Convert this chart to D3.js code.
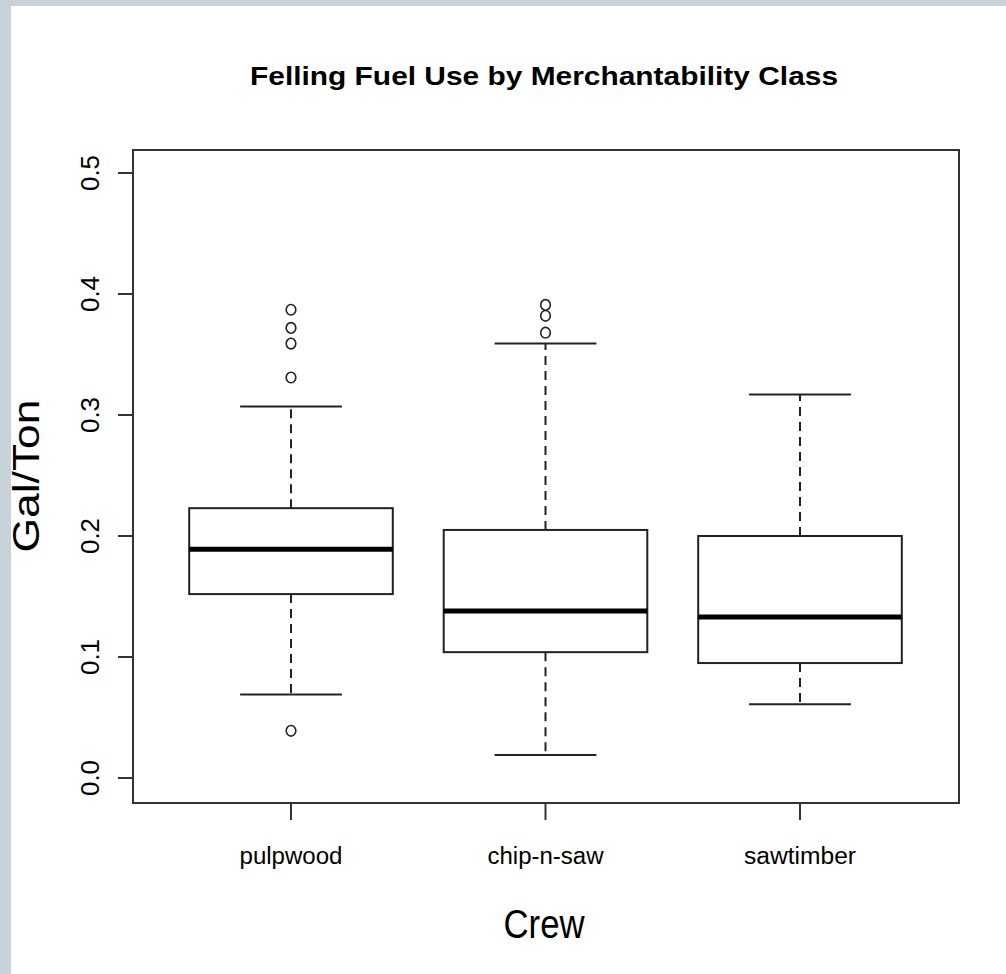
<!DOCTYPE html>
<html>
<head>
<meta charset="utf-8">
<script src="https://cdn.jsdelivr.net/npm/d3@7"></script>
<style>
  html, body { margin: 0; padding: 0; background: #ffffff; }
  svg { display: block; }
  text { font-family: "Liberation Sans", Arial, sans-serif; fill: #000; }
</style>
</head>
<body>
<script>
// Felling fuel use (gallons per ton) summarised per merchantability class
const categories = ["pulpwood", "chip-n-saw", "sawtimber"];
const whiskerLow  = [0.069, 0.019, 0.061];
const quartile1   = [0.152, 0.104, 0.095];
const medians     = [0.189, 0.138, 0.133];
const quartile3   = [0.223, 0.205, 0.200];
const whiskerHigh = [0.307, 0.359, 0.317];
const outliers = [
  [0.387, 0.372, 0.359, 0.331, 0.039],
  [0.391, 0.382, 0.368],
  []
];
const yTicks = [0.0, 0.1, 0.2, 0.3, 0.4, 0.5];

const W = 1006, H = 974;
const svg = d3.select("body").append("svg").attr("width", W).attr("height", H);

// page frame
svg.append("rect").attr("x", 0).attr("y", 0).attr("width", W).attr("height", H).attr("fill", "#c8d2d9");
svg.append("rect").attr("x", 11).attr("y", 6).attr("width", W - 11).attr("height", H - 6).attr("fill", "#ffffff");

// plot region
const frame = { left: 133, right: 959, top: 150, bottom: 803 };
const y = d3.scaleLinear().domain([0, 0.5]).range([778, 173]);
const x = d3.scalePoint().domain(categories).range([291, 800]);
const boxW = x.step() * 0.8;
const capW = boxW / 2;

const ink = "#222";

// boxes
const g = svg.append("g");
categories.forEach((c, i) => {
  const cx = x(c);
  // whiskers (dashed)
  g.append("line").attr("x1", cx).attr("x2", cx)
    .attr("y1", y(quartile3[i])).attr("y2", y(whiskerHigh[i]))
    .attr("stroke", ink).attr("stroke-width", 2).attr("stroke-dasharray", "9,6");
  g.append("line").attr("x1", cx).attr("x2", cx)
    .attr("y1", y(quartile1[i])).attr("y2", y(whiskerLow[i]))
    .attr("stroke", ink).attr("stroke-width", 2).attr("stroke-dasharray", "9,6");
  // whisker caps
  [whiskerHigh[i], whiskerLow[i]].forEach(v => {
    g.append("line").attr("x1", cx - capW / 2).attr("x2", cx + capW / 2)
      .attr("y1", y(v)).attr("y2", y(v))
      .attr("stroke", ink).attr("stroke-width", 2);
  });
  // box
  g.append("rect").attr("x", cx - boxW / 2).attr("width", boxW)
    .attr("y", y(quartile3[i])).attr("height", y(quartile1[i]) - y(quartile3[i]))
    .attr("fill", "#fff").attr("stroke", ink).attr("stroke-width", 2);
  // median
  g.append("line").attr("x1", cx - boxW / 2).attr("x2", cx + boxW / 2)
    .attr("y1", y(medians[i])).attr("y2", y(medians[i]))
    .attr("stroke", "#000").attr("stroke-width", 5);
  // outliers
  outliers[i].forEach(v => {
    g.append("ellipse").attr("cx", cx).attr("cy", y(v)).attr("rx", 4.8).attr("ry", 5.3)
      .attr("fill", "none").attr("stroke", ink).attr("stroke-width", 1.6);
  });
});

// frame box
svg.append("rect").attr("x", frame.left).attr("y", frame.top)
  .attr("width", frame.right - frame.left).attr("height", frame.bottom - frame.top)
  .attr("fill", "none").attr("stroke", "#333").attr("stroke-width", 2);

// y axis ticks and labels
yTicks.forEach(t => {
  svg.append("line").attr("x1", 118).attr("x2", frame.left)
    .attr("y1", y(t)).attr("y2", y(t)).attr("stroke", "#333").attr("stroke-width", 2);
  svg.append("text")
    .attr("transform", `translate(99,${y(t)}) rotate(-90)`)
    .attr("text-anchor", "middle")
    .attr("font-size", 25)
    .attr("textLength", 36).attr("lengthAdjust", "spacingAndGlyphs")
    .text(t.toFixed(1));
});

// x axis ticks and labels
const xLabelWidths = [103, 116, 112];
categories.forEach((c, i) => {
  svg.append("line").attr("x1", x(c)).attr("x2", x(c))
    .attr("y1", frame.bottom).attr("y2", 820).attr("stroke", "#333").attr("stroke-width", 2);
  svg.append("text")
    .attr("x", x(c)).attr("y", 864)
    .attr("text-anchor", "middle").attr("font-size", 23)
    .attr("textLength", xLabelWidths[i]).attr("lengthAdjust", "spacingAndGlyphs")
    .text(c);
});

// title
svg.append("text")
  .attr("x", 544).attr("y", 84.5)
  .attr("text-anchor", "middle").attr("font-size", 25).attr("font-weight", "bold")
  .attr("textLength", 588).attr("lengthAdjust", "spacingAndGlyphs")
  .text("Felling Fuel Use by Merchantability Class");

// axis titles
svg.append("text")
  .attr("x", 544).attr("y", 938)
  .attr("text-anchor", "middle").attr("font-size", 40)
  .attr("textLength", 81).attr("lengthAdjust", "spacingAndGlyphs")
  .text("Crew");

svg.append("text")
  .attr("transform", "translate(39,476) rotate(-90)")
  .attr("text-anchor", "middle").attr("font-size", 36)
  .attr("textLength", 153).attr("lengthAdjust", "spacingAndGlyphs")
  .text("Gal/Ton");
</script>
</body>
</html>
